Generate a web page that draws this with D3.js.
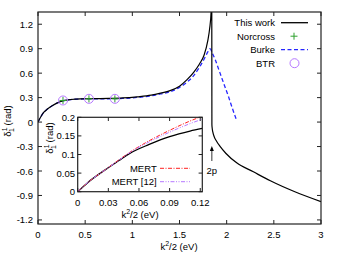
<!DOCTYPE html>
<html>
<head>
<meta charset="utf-8">
<script src="https://cdn.jsdelivr.net/npm/d3@7"></script>
<style>
  body { margin: 0; background: #fff; }
  svg text { font-family: "Liberation Sans", Arial, sans-serif; font-size: 9.5px; fill: #000; }
</style>
</head>
<body>
<svg id="chart" width="338" height="263"></svg>
<script>
// main panel data (energy k^2/2 in eV, phase shift in rad)
let workE = [0, 0.03, 0.06, 0.1, 0.15, 0.2, 0.27, 0.35, 0.45, 0.6, 0.75, 0.9, 1.05, 1.2, 1.3, 1.4, 1.5, 1.58, 1.65, 1.71, 1.76, 1.8, 1.82, 1.835, 1.842,
    1.8435, 1.846, 1.853, 1.868, 1.893, 1.928, 1.993, 2.106, 2.283, 2.463, 2.723, 3.0];
let workD = [0, 0.065, 0.118, 0.16, 0.2, 0.232, 0.262, 0.277, 0.285, 0.288, 0.29, 0.296, 0.31, 0.33, 0.355, 0.385, 0.44, 0.52, 0.61, 0.71, 0.82, 1.0, 1.15, 1.35, 1.6,
    -0.03, -0.07, -0.12, -0.18, -0.235, -0.295, -0.385, -0.5, -0.61, -0.72, -0.855, -0.976];
let burkeE = [0, 0.03, 0.06, 0.1, 0.15, 0.2, 0.27, 0.35, 0.45, 0.6, 0.75, 0.9, 1.05, 1.2, 1.3, 1.4, 1.5, 1.58, 1.65, 1.71, 1.76, 1.8, 1.823, 1.85, 1.88, 1.93, 1.97, 2.02, 2.06, 2.106];
let burkeD = [0, 0.065, 0.118, 0.16, 0.2, 0.232, 0.262, 0.276, 0.283, 0.285, 0.286, 0.29, 0.302, 0.322, 0.345, 0.372, 0.425, 0.49, 0.57, 0.67, 0.77, 0.86, 0.9, 0.84, 0.76, 0.6, 0.47, 0.31, 0.17, 0.02];
let norcrossE = [0.265, 0.54, 0.815];
let norcrossD = [0.265, 0.285, 0.285];
let btrE = [0.265, 0.54, 0.815];
let btrD = [0.265, 0.285, 0.285];
let xTicks = [0, 0.5, 1, 1.5, 2, 2.5, 3];
let yTicks = [-1.2, -0.9, -0.6, -0.3, 0, 0.3, 0.6, 0.9, 1.2];

// inset data (low energy)
let insetWorkE = [0, 0.01, 0.0265, 0.04, 0.051, 0.07, 0.09, 0.11, 0.122];
let insetWorkD = [0, 0.025, 0.058, 0.083, 0.103, 0.127, 0.148, 0.163, 0.17];
let mertE = [0, 0.01, 0.0265, 0.04, 0.051, 0.07, 0.09, 0.11, 0.122];
let mertD = [0, 0.025, 0.058, 0.085, 0.106, 0.137, 0.165, 0.19, 0.203];
let mert12E = [0, 0.01, 0.0265, 0.04, 0.051, 0.07, 0.09, 0.11, 0.122];
let mert12D = [0, 0.025, 0.058, 0.084, 0.105, 0.134, 0.16, 0.183, 0.195];
let insetXTicks = [0, 0.03, 0.06, 0.09, 0.12];
let insetYTicks = [0, 0.05, 0.1, 0.15, 0.2];

let svg = d3.select("#chart");
let toPoints = (xs, ys) => xs.map((x, i) => [x, ys[i]]);

// main plot
let x = d3.scaleLinear().domain([0, 3]).range([38, 321]);
let y = d3.scaleLinear().domain([-1.25, 1.35]).range([224, 12]);

svg.append("clipPath").attr("id", "mainClip")
    .append("rect").attr("x", 38).attr("y", 12).attr("width", 283).attr("height", 212);

// ticks all around (gnuplot style: inward + mirrored)
let mainAxes = svg.append("g").attr("stroke", "#222").attr("stroke-width", 1);
xTicks.forEach(t => {
    mainAxes.append("line").attr("x1", x(t)).attr("x2", x(t)).attr("y1", 224).attr("y2", 220);
    mainAxes.append("line").attr("x1", x(t)).attr("x2", x(t)).attr("y1", 12).attr("y2", 16);
    svg.append("text").attr("x", x(t)).attr("y", 238).attr("text-anchor", "middle").text(t);
});
yTicks.forEach(t => {
    mainAxes.append("line").attr("x1", 38).attr("x2", 42).attr("y1", y(t)).attr("y2", y(t));
    mainAxes.append("line").attr("x1", 321).attr("x2", 317).attr("y1", y(t)).attr("y2", y(t));
    svg.append("text").attr("x", 33).attr("y", y(t) + 3.5).attr("text-anchor", "end").text(t);
});

let line = d3.line().x(d => x(d[0])).y(d => y(d[1])).curve(d3.curveMonotoneX);
let plot = svg.append("g").attr("clip-path", "url(#mainClip)");

plot.append("path").attr("d", line(toPoints(burkeE, burkeD)))
    .attr("fill", "none").attr("stroke", "#2626ff").attr("stroke-width", 1.3).attr("stroke-dasharray", "4,2.5");
plot.append("path").attr("d", line(toPoints(workE, workD)))
    .attr("fill", "none").attr("stroke", "#000").attr("stroke-width", 1.2);

// Norcross crosses + BTR circles
toPoints(btrE, btrD).forEach(p => {
    plot.append("circle").attr("cx", x(p[0])).attr("cy", y(p[1])).attr("r", 4.5)
        .attr("fill", "none").attr("stroke", "#b678ff").attr("stroke-width", 1);
});
toPoints(norcrossE, norcrossD).forEach(p => {
    plot.append("path").attr("d", `M${x(p[0]) - 3.5},${y(p[1])}h7M${x(p[0])},${y(p[1]) - 3.5}v7`)
        .attr("stroke", "#2ea02e").attr("stroke-width", 1);
});

svg.append("rect").attr("x", 38).attr("y", 12).attr("width", 283).attr("height", 212)
    .attr("fill", "none").attr("stroke", "#222").attr("stroke-width", 1.2);

// 2p arrow
svg.append("line").attr("x1", x(1.843)).attr("x2", x(1.843)).attr("y1", 161).attr("y2", 148)
    .attr("stroke", "#000").attr("stroke-width", 0.8);
svg.append("path").attr("d", `M${x(1.843)},146l-2,5h4z`).attr("fill", "#000");
svg.append("text").attr("x", x(1.843)).attr("y", 174).attr("text-anchor", "middle").text("2p");

// axis labels
svg.append("text").attr("x", 179).attr("y", 250).attr("text-anchor", "middle")
    .html('k<tspan dy="-4" font-size="7">2</tspan><tspan dy="4">/2 (eV)</tspan>');

function deltaLabel(g) {
    g.append("tspan").text("δ");
    g.append("tspan").attr("dy", -4).attr("font-size", "7px").text("1");
    g.append("tspan").attr("dx", -4).attr("dy", 7).attr("font-size", "7px").text("1");
    g.append("tspan").attr("dy", -3).text(" (rad)");
}
let yLab = svg.append("text").attr("transform", "translate(11,121) rotate(-90)").attr("text-anchor", "middle");
deltaLabel(yLab);

// legend
let legendRows = [
    { name: "This work", kind: "line", color: "#000", dash: null },
    { name: "Norcross", kind: "plus", color: "#2ea02e" },
    { name: "Burke", kind: "line", color: "#2626ff", dash: "4,2.5" },
    { name: "BTR", kind: "circle", color: "#b678ff" },
];
legendRows.forEach((row, i) => {
    let ly = 22.7 + i * 13.5;
    svg.append("text").attr("x", 275).attr("y", ly + 3.5).attr("text-anchor", "end").text(row.name);
    if (row.kind == "line") {
        svg.append("line").attr("x1", 281).attr("x2", 308).attr("y1", ly).attr("y2", ly)
            .attr("stroke", row.color).attr("stroke-width", 1.3).attr("stroke-dasharray", row.dash);
    } else if (row.kind == "plus") {
        svg.append("path").attr("d", `M${290.5},${ly}h7M${294},${ly - 3.5}v7`).attr("stroke", row.color);
    } else {
        svg.append("circle").attr("cx", 294.5).attr("cy", ly).attr("r", 4.5)
            .attr("fill", "none").attr("stroke", row.color);
    }
});

// inset
let ix = d3.scaleLinear().domain([0, 0.122]).range([77.7, 202.3]);
let iy = d3.scaleLinear().domain([0, 0.2]).range([191.7, 117.3]);

svg.append("rect").attr("x", 77.7).attr("y", 117.3).attr("width", 124.6).attr("height", 74.4).attr("fill", "#fff");
svg.append("clipPath").attr("id", "insetClip")
    .append("rect").attr("x", 77.7).attr("y", 117.3).attr("width", 124.6).attr("height", 74.4);

let insetAxes = svg.append("g").attr("stroke", "#222").attr("stroke-width", 1);
insetXTicks.forEach(t => {
    insetAxes.append("line").attr("x1", ix(t)).attr("x2", ix(t)).attr("y1", 191.7).attr("y2", 188);
    insetAxes.append("line").attr("x1", ix(t)).attr("x2", ix(t)).attr("y1", 117.3).attr("y2", 121);
    svg.append("text").attr("x", ix(t)).attr("y", 206).attr("text-anchor", "middle").text(t);
});
insetYTicks.forEach(t => {
    insetAxes.append("line").attr("x1", 77.7).attr("x2", 81.4).attr("y1", iy(t)).attr("y2", iy(t));
    insetAxes.append("line").attr("x1", 202.3).attr("x2", 198.6).attr("y1", iy(t)).attr("y2", iy(t));
    svg.append("text").attr("x", 75).attr("y", iy(t) + 3.5).attr("text-anchor", "end").text(t);
});

let iline = d3.line().x(d => ix(d[0])).y(d => iy(d[1])).curve(d3.curveMonotoneX);
let inset = svg.append("g").attr("clip-path", "url(#insetClip)");
inset.append("path").attr("d", iline(toPoints(insetWorkE, insetWorkD)))
    .attr("fill", "none").attr("stroke", "#000").attr("stroke-width", 1.3);
inset.append("path").attr("d", iline(toPoints(mertE, mertD)))
    .attr("fill", "none").attr("stroke", "#ff2020").attr("stroke-width", 1).attr("stroke-dasharray", "4,1.5,1,1.5");
inset.append("path").attr("d", iline(toPoints(mert12E, mert12D)))
    .attr("fill", "none").attr("stroke", "#b678ff").attr("stroke-width", 1).attr("stroke-dasharray", "4,1.5,1,1.5,1,1.5");

// inset legend
svg.append("text").attr("x", 156.7).attr("y", 171.8).attr("text-anchor", "end").text("MERT");
svg.append("line").attr("x1", 160).attr("x2", 190).attr("y1", 168.3).attr("y2", 168.3)
    .attr("stroke", "#ff2020").attr("stroke-dasharray", "4,1.5,1,1.5");
svg.append("text").attr("x", 156.7).attr("y", 185.2).attr("text-anchor", "end").text("MERT [12]");
svg.append("line").attr("x1", 160).attr("x2", 190).attr("y1", 181.7).attr("y2", 181.7)
    .attr("stroke", "#b678ff").attr("stroke-dasharray", "4,1.5,1,1.5,1,1.5");

svg.append("rect").attr("x", 77.7).attr("y", 117.3).attr("width", 124.6).attr("height", 74.4)
    .attr("fill", "none").attr("stroke", "#222").attr("stroke-width", 1.2);

svg.append("text").attr("x", 140).attr("y", 218).attr("text-anchor", "middle")
    .html('k<tspan dy="-4" font-size="7">2</tspan><tspan dy="4">/2 (eV)</tspan>');
let iyLab = svg.append("text").attr("transform", "translate(53,138) rotate(-90)").attr("text-anchor", "middle");
deltaLabel(iyLab);
</script>
</body>
</html>
